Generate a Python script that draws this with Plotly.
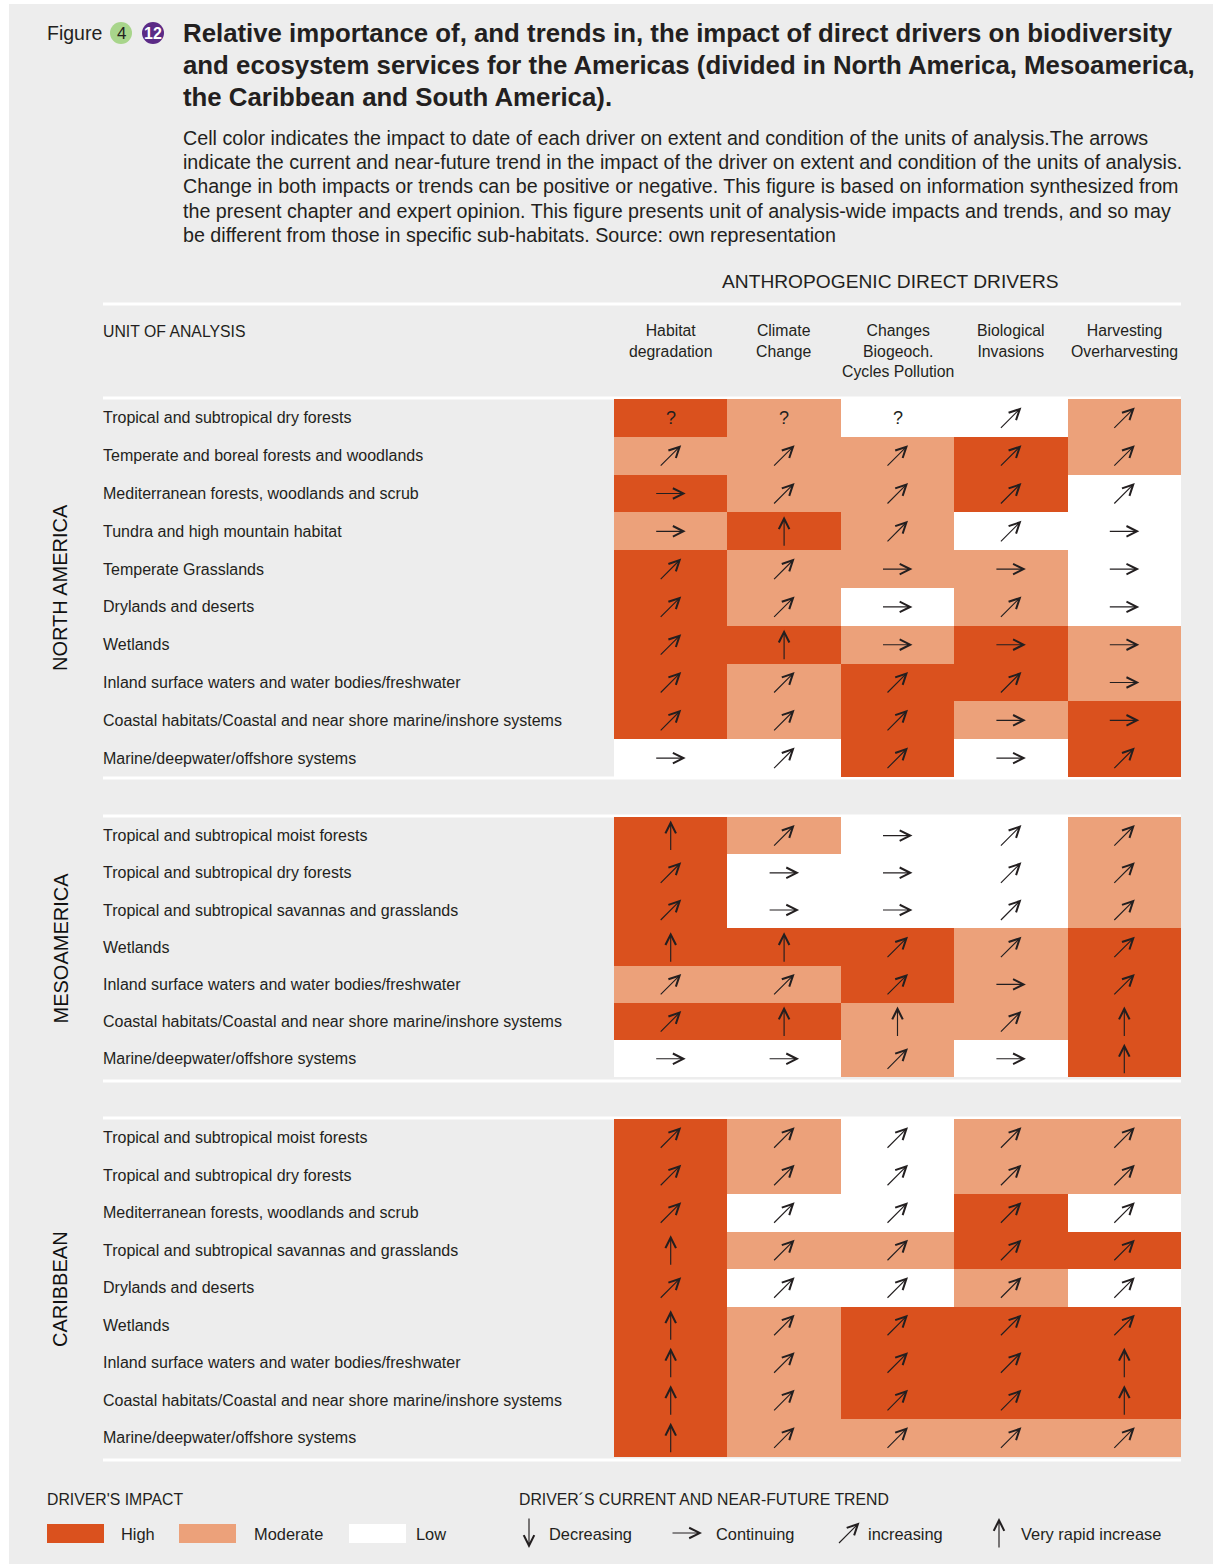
import plotly.graph_objects as go

# ---------------- data ----------------
DRIVERS = ["Habitat<br>degradation", "Climate<br>Change", "Changes<br>Biogeoch.<br>Cycles Pollution",
           "Biological<br>Invasions", "Harvesting<br>Overharvesting"]

REGIONS = ["NORTH AMERICA", "MESOAMERICA", "CARIBBEAN"]

NA_UNITS = [
    "Tropical and subtropical dry forests",
    "Temperate and boreal forests and woodlands",
    "Mediterranean forests, woodlands and scrub",
    "Tundra and high mountain habitat",
    "Temperate Grasslands",
    "Drylands and deserts",
    "Wetlands",
    "Inland surface waters and water bodies/freshwater",
    "Coastal habitats/Coastal and near shore marine/inshore systems",
    "Marine/deepwater/offshore systems",
]
NA_IMPACT = ["HMLLM", "MMMHM", "HMMHL", "MHMLL", "HMMML", "HMLML", "HHMHM", "HMHHM", "HMHMH", "LLHLH"]
NA_TREND = ["???↗↗", "↗↗↗↗↗", "→↗↗↗↗", "→↑↗↗→", "↗↗→→→", "↗↗→↗→", "↗↑→→→", "↗↗↗↗→", "↗↗↗→→", "→↗↗→↗"]

MESO_UNITS = [
    "Tropical and subtropical moist forests",
    "Tropical and subtropical dry forests",
    "Tropical and subtropical savannas and grasslands",
    "Wetlands",
    "Inland surface waters and water bodies/freshwater",
    "Coastal habitats/Coastal and near shore marine/inshore systems",
    "Marine/deepwater/offshore systems",
]
MESO_IMPACT = ["HMLLM", "HLLLM", "HLLLM", "HHHMH", "MMHMH", "HHMMH", "LLMLH"]
MESO_TREND = ["↑↗→↗↗", "↗→→↗↗", "↗→→↗↗", "↑↑↗↗↗", "↗↗↗→↗", "↗↑↑↗↑", "→→↗→↑"]

CARIB_UNITS = [
    "Tropical and subtropical moist forests",
    "Tropical and subtropical dry forests",
    "Mediterranean forests, woodlands and scrub",
    "Tropical and subtropical savannas and grasslands",
    "Drylands and deserts",
    "Wetlands",
    "Inland surface waters and water bodies/freshwater",
    "Coastal habitats/Coastal and near shore marine/inshore systems",
    "Marine/deepwater/offshore systems",
]
CARIB_IMPACT = ["HMLMM", "HMLMM", "HLLHL", "HMMHH", "HLLML", "HMHHH", "HMHHH", "HMHHH", "HMMMM"]
CARIB_TREND = ["↗↗↗↗↗", "↗↗↗↗↗", "↗↗↗↗↗", "↑↗↗↗↗", "↗↗↗↗↗", "↑↗↗↗↗", "↑↗↗↗↑", "↑↗↗↗↑", "↑↗↗↗↗"]

IMPACT_LEVELS = ["L", "M", "H"]
IMPACT_NAMES = ["Low", "Moderate", "High"]
IMPACT_COLORS = ["#FFFFFF", "#ECA17A", "#DA511E"]
TREND_SYMBOLS = ["↓", "→", "↗", "↑"]
TREND_NAMES = ["Decreasing", "Continuing", "increasing", "Very rapid increase"]

TITLE_LINES = [
    "Relative importance of, and trends in, the impact of direct drivers on biodiversity",
    "and ecosystem services for the Americas (divided in North America, Mesoamerica,",
    "the Caribbean and South America).",
]
DESC_LINES = [
    "Cell color indicates the impact to date of each driver on extent and condition of the units of analysis.The arrows",
    "indicate the current and near-future trend in the impact of the driver on extent and condition of the units of analysis.",
    "Change in both impacts or trends can be positive or negative. This figure is based on information synthesized from",
    "the present chapter and expert opinion. This figure presents unit of analysis-wide impacts and trends, and so may",
    "be different from those in specific sub-habitats. Source: own representation",
]

# ---------------- layout helpers ----------------
W, H = 1215, 1564
FONT = "Liberation Sans, Arial, Helvetica, sans-serif"
INK = "#231F20"
BG = "#EDEDED"
PAD = 2  # annotation inner padding


def X(p):
    return p / W


def XL(p):  # left edge of left-anchored text
    return (p - PAD) / W


def Y(p):
    return 1 - p / H


ARROW_VEC = {"→": (30, 0), "↗": (21, 21), "↑": (0, 30), "↓": (0, -30)}


def arrow(sym, x, y, xref, yref):
    dx, dy = ARROW_VEC[sym]
    return dict(x=x, y=y, xref=xref, yref=yref, text="", showarrow=True,
                ax=-dx, ay=dy, axref="pixel", ayref="pixel",
                xshift=dx / 2, yshift=dy / 2,
                arrowhead=5, arrowsize=1.8, arrowwidth=1.15, arrowcolor=INK,
                standoff=0, startstandoff=0, font=dict(size=1), borderpad=0)


def text_left(t, x, y, size, yref="paper"):
    return dict(x=XL(x), xref="paper", y=y, yref=yref, text=t, showarrow=False,
                xanchor="left", yanchor="middle", font=dict(family=FONT, size=size, color=INK))


fig = go.Figure()

sections = [
    (NA_UNITS, NA_IMPACT, NA_TREND, "y", (399, 777)),
    (MESO_UNITS, MESO_IMPACT, MESO_TREND, "y2", (817, 1080)),
    (CARIB_UNITS, CARIB_IMPACT, CARIB_TREND, "y3", (1119, 1459)),
]

annotations = []
shapes = []

# background panel
shapes.append(dict(type="rect", xref="paper", yref="paper", x0=X(9), x1=X(1213), y0=0, y1=Y(4),
                   fillcolor=BG, line=dict(width=0), layer="below"))

# separator lines
for ly in [304, 398, 778, 816, 1081, 1118, 1460]:
    shapes.append(dict(type="line", xref="paper", yref="paper", x0=X(103), x1=X(1181), y0=Y(ly), y1=Y(ly),
                       line=dict(color="white", width=3), layer="below"))

layout_axes = {}
for k, (units, impact, trend, yname, (top, bot)) in enumerate(sections):
    z = [[IMPACT_LEVELS.index(c) for c in row] for row in impact]
    fig.add_trace(go.Heatmap(
        x=DRIVERS, y=units, z=z, xaxis="x", yaxis=yname,
        zmin=0, zmax=2,
        colorscale=[[0, IMPACT_COLORS[0]], [0.5, IMPACT_COLORS[1]], [1, IMPACT_COLORS[2]]],
        showscale=False, xgap=0, ygap=0, hoverinfo="skip"))
    axkey = "yaxis" if yname == "y" else "yaxis" + yname[1:]
    layout_axes[axkey] = dict(domain=[Y(bot), Y(top)], type="category", autorange="reversed",
                              visible=False, anchor="x", fixedrange=True)
    # row labels
    for u in units:
        annotations.append(text_left(u, 103, u, 16, yref=yname))
    # region label
    annotations.append(dict(x=X(60), xref="paper", y=0.5, yref=yname + " domain", text=REGIONS[k],
                            showarrow=False, textangle=-90, xanchor="center", yanchor="middle",
                            font=dict(family=FONT, size=20, color="#111111")))
    # trend arrows
    for i, u in enumerate(units):
        for j, d in enumerate(DRIVERS):
            s = trend[i][j]
            if s == "?":
                annotations.append(dict(x=d, y=u, xref="x", yref=yname, text="?", showarrow=False,
                                        font=dict(family=FONT, size=18, color=INK)))
            else:
                annotations.append(arrow(s, d, u, "x", yname))

# column headers
for d in DRIVERS:
    annotations.append(dict(x=d, xref="x", y=Y(320), yref="paper", text=d, showarrow=False,
                            xanchor="center", yanchor="top", align="center",
                            font=dict(family=FONT, size=15.8, color=INK)))

annotations.append(dict(x=X(890), xref="paper", y=Y(281), yref="paper", text="ANTHROPOGENIC DIRECT DRIVERS",
                        showarrow=False, xanchor="center", yanchor="middle",
                        font=dict(family=FONT, size=19.2, color=INK)))
annotations.append(text_left("UNIT OF ANALYSIS", 103, Y(331), 15.8))

# title block
annotations.append(text_left("Figure", 47, Y(33), 19.5))
shapes.append(dict(type="circle", xref="paper", yref="paper", x0=X(110), x1=X(132), y0=Y(44), y1=Y(22),
                   fillcolor="#A8D58B", line=dict(width=0)))
shapes.append(dict(type="circle", xref="paper", yref="paper", x0=X(142), x1=X(164), y0=Y(44), y1=Y(22),
                   fillcolor="#5B2A86", line=dict(width=0)))
annotations.append(dict(x=X(121), xref="paper", y=Y(33), yref="paper", text="4", showarrow=False,
                        xanchor="center", yanchor="middle", font=dict(family=FONT, size=17, color=INK)))
annotations.append(dict(x=X(153), xref="paper", y=Y(33), yref="paper", text="<b>12</b>", showarrow=False,
                        xanchor="center", yanchor="middle", font=dict(family=FONT, size=16, color="white")))

for i, t in enumerate(TITLE_LINES):
    annotations.append(text_left("<b>" + t + "</b>", 183, Y(33 + 32 * i), 25.8))
for i, t in enumerate(DESC_LINES):
    annotations.append(text_left(t, 183, Y(138 + 24.2 * i), 19.7))

# legend: impact
annotations.append(text_left("DRIVER'S IMPACT", 47, Y(1499), 15.8))
sw_x = [349, 179, 47]
lab_x = [416, 254, 121]
for i in range(3):
    shapes.append(dict(type="rect", xref="paper", yref="paper", x0=X(sw_x[i]), x1=X(sw_x[i] + 57),
                       y0=Y(1543), y1=Y(1524), fillcolor=IMPACT_COLORS[i], line=dict(width=0)))
    annotations.append(text_left(IMPACT_NAMES[i], lab_x[i], Y(1534), 16.4))

# legend: trend
annotations.append(text_left("DRIVER´S CURRENT AND NEAR-FUTURE TREND", 519, Y(1499), 15.8))
arr_cx = [529, 687, 849, 999]
txt_x = [549, 716, 868, 1021]
for i, s in enumerate(TREND_SYMBOLS):
    annotations.append(arrow(s, X(arr_cx[i]), Y(1533), "paper", "paper"))
    annotations.append(text_left(TREND_NAMES[i], txt_x[i], Y(1534), 16.4))

fig.update_layout(
    width=W, height=H,
    margin=dict(l=0, r=0, t=0, b=0),
    paper_bgcolor="white", plot_bgcolor="rgba(0,0,0,0)",
    xaxis=dict(domain=[X(614), X(1181)], type="category", visible=False, anchor="y3", fixedrange=True),
    annotations=annotations, shapes=shapes, showlegend=False,
    **layout_axes,
)

fig.write_html("out.html", config={"displayModeBar": False, "staticPlot": True},
               post_script="document.body.style.margin='0';document.body.style.overflow='hidden';")
